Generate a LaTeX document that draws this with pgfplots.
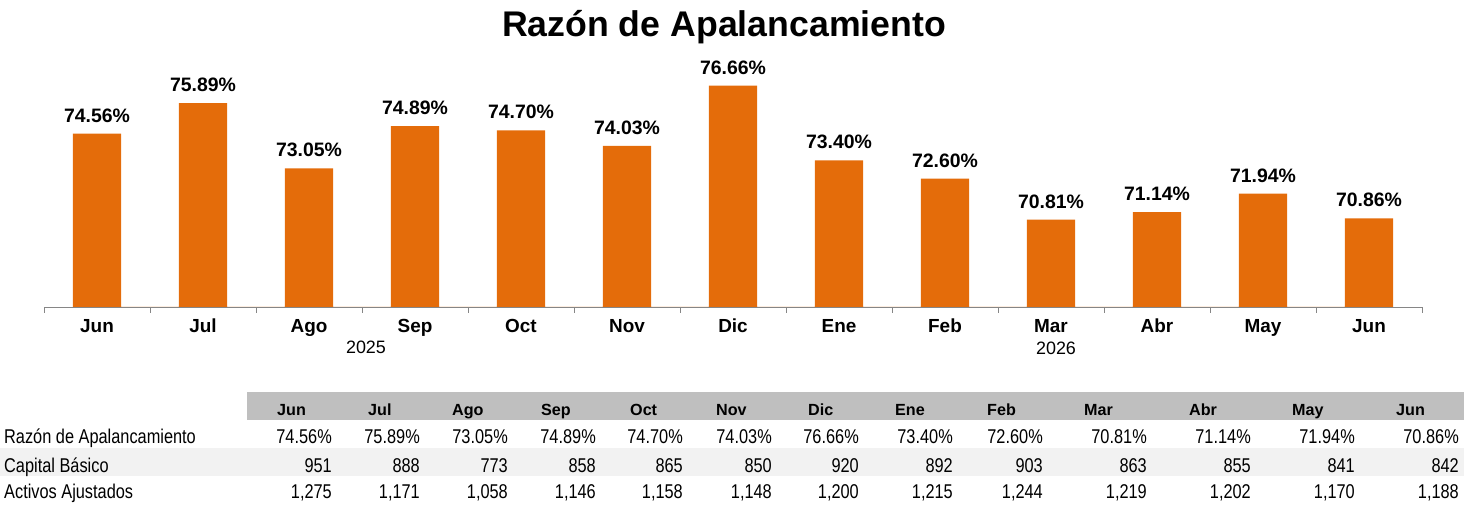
\documentclass[border=0pt]{standalone}
\usepackage{fontspec}
\setmainfont{Liberation Sans}
\newfontfamily\narrowfont{Liberation Sans}[FakeStretch=0.82]
\usepackage{pgfplots}
\pgfplotsset{compat=1.18}
\definecolor{barorange}{HTML}{E46C0A}
\definecolor{axisgray}{HTML}{868686}
\definecolor{hdrgray}{HTML}{BFBFBF}
\definecolor{rowgray}{HTML}{F2F2F2}
\begin{document}
\begin{tikzpicture}
\path[use as bounding box] (0,0) rectangle (1464bp,506bp);
% table backgrounds
\fill[hdrgray] (247bp,86bp) rectangle (1464bp,114bp);
\fill[rowgray] (0bp,30bp) rectangle (1464bp,58bp);
\begin{axis}[
  at={(44bp,199bp)}, anchor=south west,
  scale only axis, width=1378bp, height=252.2bp,
  xmin=-0.5, xmax=12.5, ymin=67, ymax=78,
  axis x line*=bottom, axis y line=none,
  axis line style={draw=axisgray, line width=0.9bp},
  xtick={0,...,12},
  xticklabels={Jun,Jul,Ago,Sep,Oct,Nov,Dic,Ene,Feb,Mar,Abr,May,Jun},
  major tick length=0pt,
  minor xtick={-0.5,0.5,...,12.5},
  minor tick length=6bp,
  tick align=outside,
  minor tick style={draw=axisgray, line width=0.9bp},
  xticklabel style={font=\bfseries\fontsize{19}{19}\selectfont, anchor=base, yshift=-26bp},
  /pgf/number format/assume math mode=true,
  clip=false,
]
\addplot[ybar, bar width=48.4bp, fill=barorange, draw=none,
  nodes near coords={\pgfmathprintnumber[fixed,fixed zerofill,precision=2]{\pgfplotspointmeta}\%},
  every node near coord/.append style={font=\bfseries\fontsize{19.5}{19.5}\selectfont, anchor=base, yshift=11.5bp, inner sep=0pt, text=black},
] coordinates {
(0,74.56) (1,75.89) (2,73.05) (3,74.89) (4,74.70) (5,74.03) (6,76.66)
(7,73.40) (8,72.60) (9,70.81) (10,71.14) (11,71.94) (12,70.86)
} \closedcycle;
\end{axis}
% title
\node[font=\bfseries\fontsize{35.8}{35.8}\selectfont, anchor=base] at (724bp,{(506-37)*1bp}) {Razón de Apalancamiento};
% year labels
\node[font=\fontsize{18}{18}\selectfont, anchor=base] at (366bp,{(506-353)*1bp}) {2025};
\node[font=\fontsize{18}{18}\selectfont, anchor=base] at (1056bp,{(506-354)*1bp}) {2026};
% table header
\foreach \x/\m in {277/Jun,368/Jul,452/Ago,541/Sep,630/Oct,716/Nov,808/Dic,895/Ene,987/Feb,1084/Mar,1189/Abr,1292/May,1396/Jun}
  \node[font=\bfseries\fontsize{16.2}{16.2}\selectfont, anchor=base west, inner sep=0pt] at (\x bp,90bp) {\m};
% row labels
\node[font=\narrowfont\fontsize{20}{20}\selectfont, anchor=base west, inner sep=0pt] at (4bp,62bp) {Razón de Apalancamiento};
\node[font=\narrowfont\fontsize{20}{20}\selectfont, anchor=base west, inner sep=0pt] at (4bp,34bp) {Capital Básico};
\node[font=\narrowfont\fontsize{20}{20}\selectfont, anchor=base west, inner sep=0pt] at (4bp,7.5bp) {Activos Ajustados};
% table body
\foreach \x/\a/\b/\c in {332/74.56/951/1{,}275, 420/75.89/888/1{,}171, 508/73.05/773/1{,}058, 596/74.89/858/1{,}146, 683/74.70/865/1{,}158, 772/74.03/850/1{,}148, 859/76.66/920/1{,}200, 953/73.40/892/1{,}215, 1043/72.60/903/1{,}244, 1147/70.81/863/1{,}219, 1251/71.14/855/1{,}202, 1355/71.94/841/1{,}170, 1459/70.86/842/1{,}188} {
  \node[font=\narrowfont\fontsize{20}{20}\selectfont, anchor=base east, inner sep=0pt] at (\x bp,62bp) {\a\%};
  \node[font=\narrowfont\fontsize{20}{20}\selectfont, anchor=base east, inner sep=0pt] at (\x bp,34bp) {\b};
  \node[font=\narrowfont\fontsize{20}{20}\selectfont, anchor=base east, inner sep=0pt] at (\x bp,7.5bp) {\c};
}
\end{tikzpicture}
\end{document}
